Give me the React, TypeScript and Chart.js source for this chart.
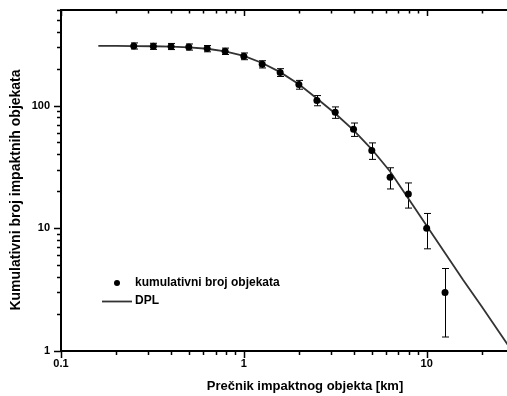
import React, { useEffect, useRef } from 'react';
import { Chart, registerables } from 'chart.js';

Chart.register(...registerables);

// Measured data: impactor diameter [km] vs cumulative number of objects
const diameterKm = [0.25, 0.32, 0.4, 0.5, 0.63, 0.79, 1.0, 1.26, 1.58, 2.0, 2.51, 3.16, 3.98, 5.01, 6.31, 7.94, 10.0, 12.6];
const cumulativeCount = [306, 304, 303, 300, 291, 277, 252, 217, 186, 148, 110, 88, 64, 43, 26, 19, 10, 3];
const countError = [17.5, 17.4, 17.4, 17.3, 17.1, 16.6, 15.9, 14.7, 13.6, 12.2, 10.5, 9.4, 8.0, 6.6, 5.1, 4.4, 3.2, 1.7];

// DPL (double power law) curve
const dplDiameter = [0.16, 0.2, 0.25, 0.32, 0.4, 0.5, 0.63, 0.79, 1.0, 1.26, 1.58, 2.0, 2.51, 3.16, 3.98, 5.01, 6.31, 7.94, 10.0, 12.6, 15.8, 20.0, 25.1, 31.6];
const dplCount = [306, 306, 305, 304, 302, 298, 290, 276, 254, 222, 187, 149, 114, 86, 63, 44, 29, 17.5, 10.5, 6.3, 3.8, 2.3, 1.4, 0.85];

// Axis tick labels
const xTickValues = [0.1, 1, 10];
const yTickValues = [1, 10, 100];

const xTitle = 'Prečnik impaktnog objekta [km]';
const yTitle = 'Kumulativni broj impaktnih objekata';
const legendPoints = 'kumulativni broj objekata';
const legendLine = 'DPL';

const FONT = '"Liberation Sans", Arial, sans-serif';

const zeroPadding = (s: any) => {
  s.paddingTop = 0;
  s.paddingBottom = 0;
  s.paddingLeft = 0;
  s.paddingRight = 0;
};

const framePlugin = {
  id: 'frame',
  beforeDatasetsDraw(chart: any) {
    const ctx = chart.ctx;
    const xs = chart.scales.x;
    const ys = chart.scales.y;
    ctx.save();
    ctx.strokeStyle = '#000';
    ctx.lineWidth = 1;
    diameterKm.forEach((d, i) => {
      const c = cumulativeCount[i];
      const e = countError[i];
      const px = Math.round(xs.getPixelForValue(d)) + 0.5;
      const top = ys.getPixelForValue(c + e);
      const bot = ys.getPixelForValue(Math.max(c - e, 0.01));
      ctx.beginPath();
      ctx.moveTo(px, top);
      ctx.lineTo(px, bot);
      ctx.moveTo(px - 3.5, top);
      ctx.lineTo(px + 3.5, top);
      ctx.moveTo(px - 3.5, bot);
      ctx.lineTo(px + 3.5, bot);
      ctx.stroke();
    });
    ctx.restore();
  },
  afterDraw(chart: any) {
    const ctx = chart.ctx;
    const ca = chart.chartArea;
    const xs = chart.scales.x;
    const ys = chart.scales.y;
    ctx.save();
    ctx.strokeStyle = '#000';
    // axis lines
    ctx.lineWidth = 2;
    ctx.beginPath();
    ctx.moveTo(ca.left, ca.top);
    ctx.lineTo(ca.left, ca.bottom);
    ctx.moveTo(ca.left - 1, ca.bottom);
    ctx.lineTo(ca.right, ca.bottom);
    ctx.moveTo(ca.left - 1, ca.top);
    ctx.lineTo(ca.right, ca.top);
    ctx.stroke();

    // x ticks (bottom outward, top inward)
    ctx.lineWidth = 1.5;
    ctx.beginPath();
    [0.1, 1, 10].forEach((dec) => {
      for (let m = 1; m <= 9; m++) {
        const v = dec * m;
        if (v < xs.min - 1e-9 || v > xs.max) continue;
        const px = Math.round(xs.getPixelForValue(v)) + 0.5;
        const major = m === 1;
        ctx.moveTo(px, ca.bottom);
        ctx.lineTo(px, ca.bottom + (major ? 7 : 4));
        ctx.moveTo(px, ca.top);
        ctx.lineTo(px, ca.top + (major ? 6 : 3.5));
      }
    });
    // y ticks (left outward)
    [1, 10, 100].forEach((dec) => {
      for (let m = 1; m <= 9; m++) {
        const v = dec * m;
        if (v < ys.min - 1e-9 || v > ys.max) continue;
        const py = Math.round(ys.getPixelForValue(v)) + 0.5;
        const major = m === 1;
        ctx.moveTo(ca.left, py);
        ctx.lineTo(ca.left - (major ? 7 : 4), py);
      }
    });
    ctx.stroke();

    // legend
    ctx.fillStyle = '#000';
    ctx.beginPath();
    ctx.arc(117, 283, 3, 0, Math.PI * 2);
    ctx.fill();
    ctx.strokeStyle = '#333';
    ctx.lineWidth = 1.8;
    ctx.beginPath();
    ctx.moveTo(102, 301.5);
    ctx.lineTo(132, 301.5);
    ctx.stroke();
    ctx.font = `bold 12px ${FONT}`;
    ctx.textAlign = 'left';
    ctx.textBaseline = 'middle';
    ctx.fillText(legendPoints, 135, 283);
    ctx.fillText(legendLine, 135, 301);

    // axis titles
    ctx.font = `bold 13px ${FONT}`;
    ctx.textAlign = 'center';
    ctx.textBaseline = 'middle';
    ctx.fillText(xTitle, 305, 386);
    ctx.save();
    ctx.translate(16, 190);
    ctx.rotate(-Math.PI / 2);
    ctx.font = `bold 14px ${FONT}`;
    ctx.fillText(yTitle, 0, 0);
    ctx.restore();

    ctx.restore();
  },
};

export default function App() {
  const canvasRef = useRef<HTMLCanvasElement | null>(null);

  useEffect(() => {
    if (!canvasRef.current) return;
    const chart = new Chart(canvasRef.current, {
      type: 'scatter',
      data: {
        datasets: [
          {
            label: legendLine,
            data: dplDiameter.map((d, i) => ({ x: d, y: dplCount[i] })),
            showLine: true,
            borderColor: '#333',
            borderWidth: 1.8,
            pointRadius: 0,
            pointHoverRadius: 0,
            tension: 0,
            order: 2,
          },
          {
            label: legendPoints,
            data: diameterKm.map((d, i) => ({ x: d, y: cumulativeCount[i] })),
            showLine: false,
            pointRadius: 3.5,
            pointHoverRadius: 3.5,
            pointStyle: 'circle',
            backgroundColor: '#000',
            borderColor: '#000',
            borderWidth: 0,
            order: 1,
          },
        ],
      },
      options: {
        animation: false,
        responsive: true,
        maintainAspectRatio: false,
        layout: { autoPadding: false, padding: { top: 10, right: 0, left: 0, bottom: 0 } },
        plugins: {
          legend: { display: false },
          tooltip: { enabled: false },
        },
        scales: {
          x: {
            type: 'logarithmic',
            position: 'bottom',
            min: 0.1,
            max: 27.5,
            afterBuildTicks: (s: any) => {
              s.ticks = xTickValues.map((v) => ({ value: v }));
            },
            afterFit: (s: any) => {
              s.height = 45;
              zeroPadding(s);
            },
            ticks: {
              autoSkip: false,
              maxRotation: 0,
              padding: 6,
              color: '#000',
              font: { family: FONT, size: 11, weight: 'bold' },
              callback: (v: any) => String(v),
            },
            grid: { display: false, drawTicks: false },
            border: { display: false },
          },
          y: {
            type: 'logarithmic',
            min: 1,
            max: 600,
            afterBuildTicks: (s: any) => {
              s.ticks = yTickValues.map((v) => ({ value: v }));
            },
            afterFit: (s: any) => {
              s.width = 61;
              zeroPadding(s);
            },
            ticks: {
              autoSkip: false,
              padding: 11,
              color: '#000',
              font: { family: FONT, size: 11, weight: 'bold' },
              callback: (v: any) => String(v),
            },
            grid: { display: false, drawTicks: false },
            border: { display: false },
          },
        },
      },
      plugins: [framePlugin],
    } as any);
    return () => chart.destroy();
  }, []);

  return (
    <div style={{ position: 'absolute', left: 0, top: 0, width: 507, height: 396, overflow: 'hidden', background: '#fff' }}>
      <canvas ref={canvasRef} />
    </div>
  );
}
